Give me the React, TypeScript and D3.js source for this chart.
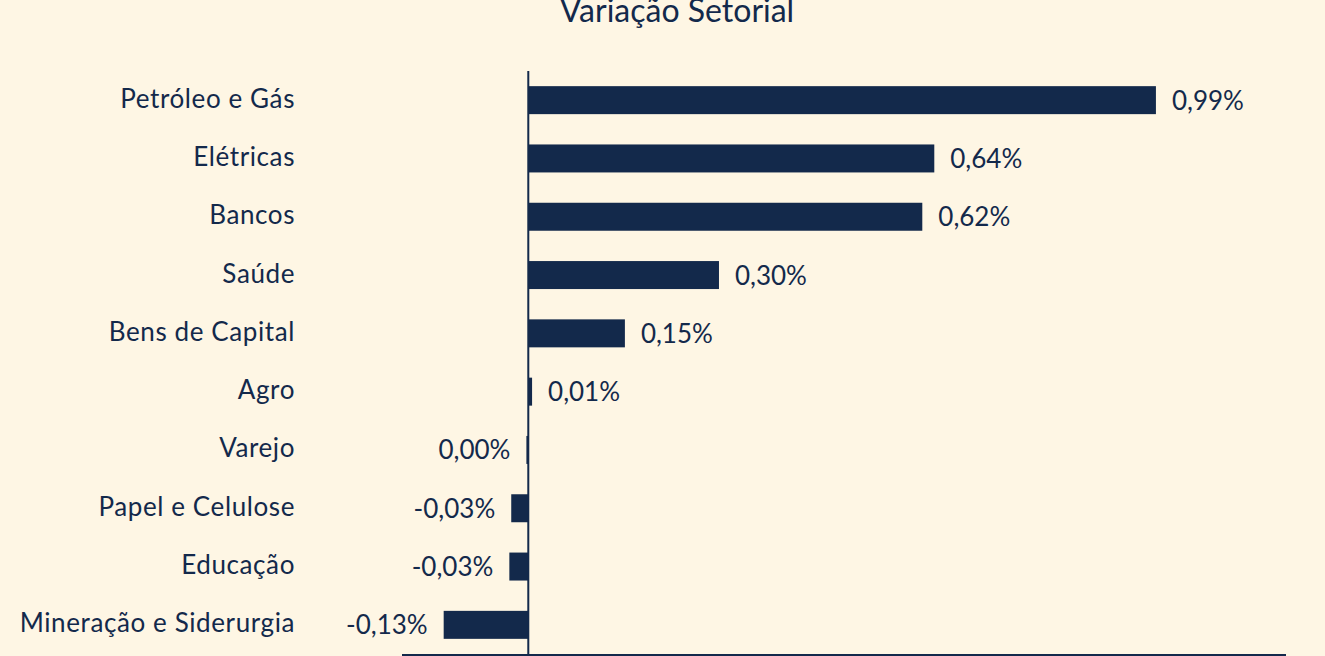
import React from "react";
import * as d3 from "d3";

const categories = [
  "Petróleo e Gás",
  "Elétricas",
  "Bancos",
  "Saúde",
  "Bens de Capital",
  "Agro",
  "Varejo",
  "Papel e Celulose",
  "Educação",
  "Mineração e Siderurgia",
];
const values = [0.994, 0.643, 0.624, 0.302, 0.153, 0.006, -0.003, -0.027, -0.03, -0.134];
const valueLabels = ["0,99%", "0,64%", "0,62%", "0,30%", "0,15%", "0,01%", "0,00%", "-0,03%", "-0,03%", "-0,13%"];
const xDomain = [-0.2, 1.2];

const W = 1325;
const H = 656;
const NAVY = "#13294b";
const BG = "#fef6e4";
const FONT = "Lato, 'Noto Sans', sans-serif";

export default function App() {
  const x = d3.scaleLinear().domain(xDomain).range([402, 1286]);
  const y = d3
    .scaleBand<string>()
    .domain(categories)
    .range([71, 654])
    .paddingInner(0.52)
    .paddingOuter(0.26);
  const x0 = x(0);
  const bw = y.bandwidth();

  return (
    <div style={{ position: "fixed", left: 0, top: 0, width: W, height: H, background: BG }}>
      <svg width={W} height={H} style={{ display: "block" }}>
        <rect x={0} y={0} width={W} height={H} fill={BG} />
        <text x={677} y={22} textAnchor="middle" fontFamily={FONT} fontSize={32} fill={NAVY}>
          Variação Setorial
        </text>
        {categories.map((c, i) => {
          const v = values[i];
          const yy = y(c)!;
          const xv = x(v);
          const left = Math.min(x0, xv);
          const w = Math.max(Math.abs(xv - x0), 1.5);
          const cy = yy + bw / 2;
          return (
            <g key={c}>
              <rect x={v < 0 ? x0 - w : left} y={yy} width={w} height={bw} fill={NAVY} />
              <text
                x={295}
                y={cy + 7.5}
                textAnchor="end"
                fontFamily={FONT}
                fontSize={26}
                letterSpacing={0.6}
                fill={NAVY}
              >
                {c}
              </text>
              <text
                x={v < 0 ? Math.min(xv, x0 - 1.5) - 16 : xv + 16}
                y={cy + 9.5}
                textAnchor={v < 0 ? "end" : "start"}
                fontFamily={FONT}
                fontSize={26}
                fill={NAVY}
              >
                {valueLabels[i]}
              </text>
            </g>
          );
        })}
        <line x1={x0} x2={x0} y1={71} y2={656} stroke={NAVY} strokeWidth={2} />
        <line x1={x(xDomain[0])} x2={x(xDomain[1])} y1={655} y2={655} stroke={NAVY} strokeWidth={2} />
      </svg>
    </div>
  );
}
